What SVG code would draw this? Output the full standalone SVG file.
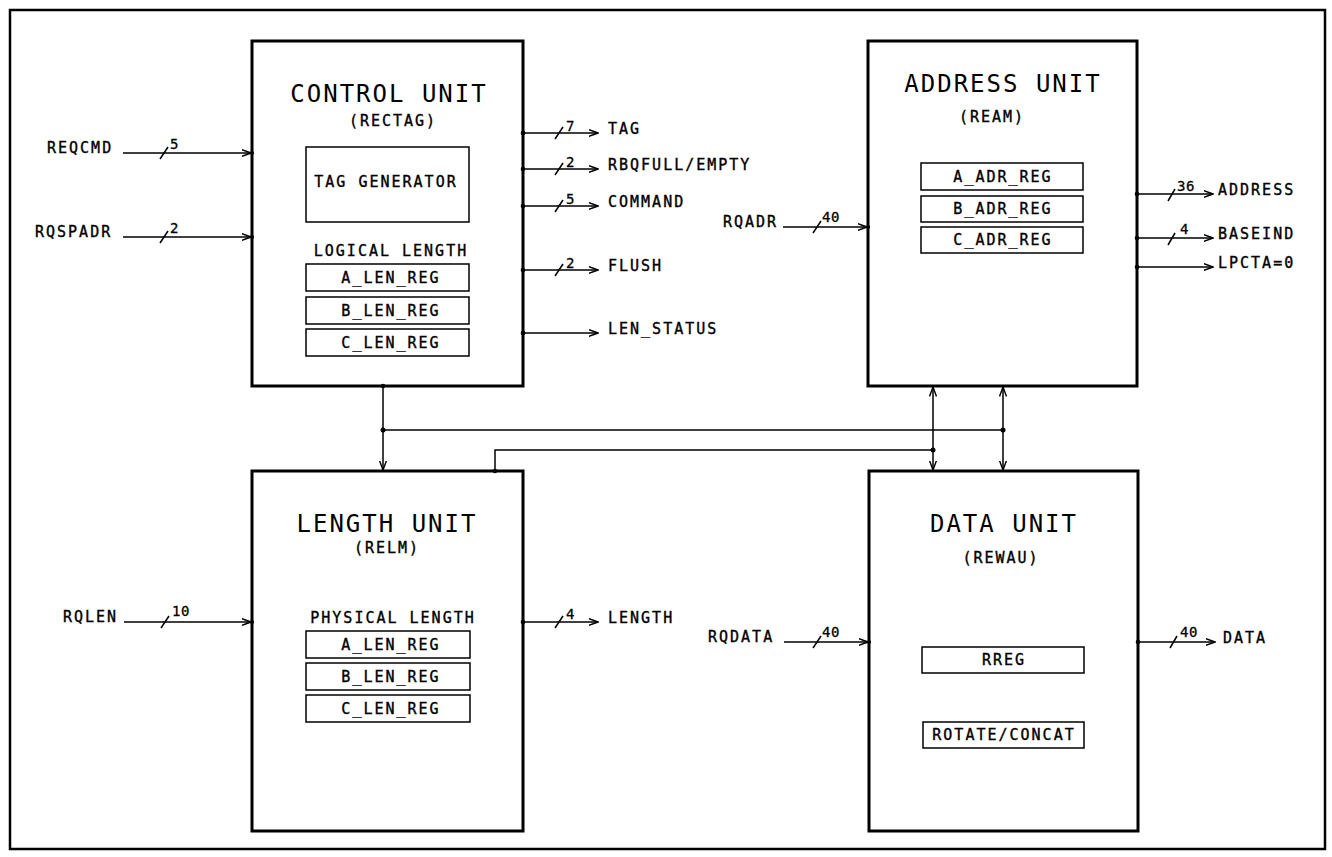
<svg xmlns="http://www.w3.org/2000/svg" width="1332" height="857" viewBox="0 0 1332 857">
<defs>
<marker id="arr" viewBox="0 0 10 8" refX="9.5" refY="4" markerWidth="10" markerHeight="8" markerUnits="userSpaceOnUse" orient="auto-start-reverse">
<path d="M0,0.5 L9.5,4 L0,7.5" fill="none" stroke="#000" stroke-width="1.4"/>
</marker>
<style>
.unit{fill:#fff;stroke:#000;stroke-width:3}
.reg{fill:none;stroke:#000;stroke-width:1.5}
.ln{fill:none;stroke:#000;stroke-width:1.5}
.sl{fill:none;stroke:#000;stroke-width:1.5}
.dot{fill:#000}
text{font-family:"DejaVu Sans Mono","Liberation Mono",monospace;fill:#000}
.title{font-size:24px;letter-spacing:2px;text-anchor:middle}
.lbl{font-size:15px;letter-spacing:2px;stroke:#000;stroke-width:0.35}
.ctr{text-anchor:middle}
.bw{font-size:14px;letter-spacing:0.5px;stroke:#000;stroke-width:0.3}
</style>
</defs>
<rect x="10" y="10" width="1315" height="839" fill="#fff" stroke="#000" stroke-width="2.5"/>

<g id="control-unit">
<rect class="unit" x="252" y="41" width="271" height="345"/>
<text class="title" x="389" y="102">CONTROL UNIT</text>
<text class="lbl ctr" x="393" y="126">(RECTAG)</text>
<rect class="reg" x="306" y="147" width="163" height="75"/>
<text class="lbl ctr" x="386" y="187">TAG GENERATOR</text>
<text class="lbl ctr" x="391" y="256">LOGICAL LENGTH</text>
<rect class="reg" x="306" y="264" width="163" height="27"/>
<text class="lbl ctr" x="391" y="283">A_LEN_REG</text>
<rect class="reg" x="306" y="297" width="163" height="27"/>
<text class="lbl ctr" x="391" y="316">B_LEN_REG</text>
<rect class="reg" x="306" y="329" width="163" height="27"/>
<text class="lbl ctr" x="391" y="348">C_LEN_REG</text>
</g>

<g id="address-unit">
<rect class="unit" x="868" y="41" width="269" height="345"/>
<text class="title" x="1003" y="92">ADDRESS UNIT</text>
<text class="lbl ctr" x="992" y="122">(REAM)</text>
<rect class="reg" x="921" y="163" width="162" height="27"/>
<text class="lbl ctr" x="1003" y="182">A_ADR_REG</text>
<rect class="reg" x="921" y="196" width="162" height="26"/>
<text class="lbl ctr" x="1003" y="214">B_ADR_REG</text>
<rect class="reg" x="921" y="227" width="162" height="26"/>
<text class="lbl ctr" x="1003" y="245">C_ADR_REG</text>
</g>

<g id="length-unit">
<rect class="unit" x="252" y="471" width="271" height="360"/>
<text class="title" x="387" y="532">LENGTH UNIT</text>
<text class="lbl ctr" x="387" y="553">(RELM)</text>
<text class="lbl ctr" x="393" y="623">PHYSICAL LENGTH</text>
<rect class="reg" x="306" y="631" width="164" height="27"/>
<text class="lbl ctr" x="391" y="650">A_LEN_REG</text>
<rect class="reg" x="306" y="663" width="164" height="27"/>
<text class="lbl ctr" x="391" y="682">B_LEN_REG</text>
<rect class="reg" x="306" y="695" width="164" height="27"/>
<text class="lbl ctr" x="391" y="714">C_LEN_REG</text>
</g>

<g id="data-unit">
<rect class="unit" x="869" y="471" width="269" height="360"/>
<text class="title" x="1004" y="532">DATA UNIT</text>
<text class="lbl ctr" x="1001" y="563">(REWAU)</text>
<rect class="reg" x="922" y="647" width="162" height="26"/>
<text class="lbl ctr" x="1004" y="665">RREG</text>
<rect class="reg" x="923" y="722" width="161" height="26"/>
<text class="lbl ctr" x="1004" y="740">ROTATE/CONCAT</text>
</g>

<g id="connectors">
<!-- inputs to control unit -->
<line class="ln" x1="123" y1="153" x2="251" y2="153" marker-end="url(#arr)"/>
<line class="sl" x1="160" y1="159" x2="168" y2="147"/>
<text class="bw" x="170" y="149">5</text>
<text class="lbl" x="47" y="153">REQCMD</text>
<line class="ln" x1="123" y1="237" x2="251" y2="237" marker-end="url(#arr)"/>
<line class="sl" x1="160" y1="243" x2="168" y2="231"/>
<text class="bw" x="170" y="233">2</text>
<text class="lbl" x="35" y="237">RQSPADR</text>
<circle class="dot" cx="252" cy="153" r="2"/>
<circle class="dot" cx="252" cy="237" r="2"/>

<!-- control unit outputs -->
<line class="ln" x1="523" y1="133" x2="598" y2="133" marker-end="url(#arr)"/>
<line class="sl" x1="555" y1="139" x2="563" y2="127"/>
<text class="bw" x="566" y="131">7</text>
<text class="lbl" x="608" y="134">TAG</text>
<line class="ln" x1="523" y1="169" x2="598" y2="169" marker-end="url(#arr)"/>
<line class="sl" x1="555" y1="175" x2="563" y2="163"/>
<text class="bw" x="566" y="167">2</text>
<text class="lbl" x="608" y="170">RBQFULL/EMPTY</text>
<line class="ln" x1="523" y1="206" x2="598" y2="206" marker-end="url(#arr)"/>
<line class="sl" x1="555" y1="212" x2="563" y2="200"/>
<text class="bw" x="566" y="204">5</text>
<text class="lbl" x="608" y="207">COMMAND</text>
<line class="ln" x1="523" y1="270" x2="598" y2="270" marker-end="url(#arr)"/>
<line class="sl" x1="555" y1="276" x2="563" y2="264"/>
<text class="bw" x="566" y="268">2</text>
<text class="lbl" x="608" y="271">FLUSH</text>
<line class="ln" x1="523" y1="333" x2="598" y2="333" marker-end="url(#arr)"/>
<text class="lbl" x="608" y="334">LEN_STATUS</text>
<circle class="dot" cx="523" cy="133" r="2.3"/>
<circle class="dot" cx="523" cy="169" r="2.3"/>
<circle class="dot" cx="523" cy="206" r="2.3"/>
<circle class="dot" cx="523" cy="270" r="2.3"/>
<circle class="dot" cx="523" cy="333" r="2.3"/>

<!-- address unit input/outputs -->
<text class="lbl" x="723" y="227">RQADR</text>
<line class="ln" x1="783" y1="227" x2="867" y2="227" marker-end="url(#arr)"/>
<line class="sl" x1="813" y1="233" x2="821" y2="221"/>
<text class="bw" x="822" y="222">40</text>
<circle class="dot" cx="868" cy="227" r="2"/>
<line class="ln" x1="1137" y1="194" x2="1213" y2="194" marker-end="url(#arr)"/>
<line class="sl" x1="1168" y1="201" x2="1175" y2="189"/>
<text class="bw" x="1177" y="191">36</text>
<text class="lbl" x="1218" y="195">ADDRESS</text>
<line class="ln" x1="1137" y1="238" x2="1213" y2="238" marker-end="url(#arr)"/>
<line class="sl" x1="1168" y1="245" x2="1175" y2="233"/>
<text class="bw" x="1180" y="234">4</text>
<text class="lbl" x="1218" y="239">BASEIND</text>
<line class="ln" x1="1137" y1="267" x2="1213" y2="267" marker-end="url(#arr)"/>
<text class="lbl" x="1218" y="268">LPCTA=0</text>
<circle class="dot" cx="1137" cy="194" r="2.3"/>
<circle class="dot" cx="1137" cy="238" r="2.3"/>
<circle class="dot" cx="1137" cy="267" r="2.3"/>

<!-- length unit input/output -->
<text class="lbl" x="63" y="622">RQLEN</text>
<line class="ln" x1="124" y1="622" x2="251" y2="622" marker-end="url(#arr)"/>
<line class="sl" x1="161" y1="628" x2="169" y2="616"/>
<text class="bw" x="172" y="616">10</text>
<circle class="dot" cx="252" cy="622" r="2"/>
<line class="ln" x1="523" y1="622" x2="598" y2="622" marker-end="url(#arr)"/>
<line class="sl" x1="555" y1="628" x2="563" y2="616"/>
<text class="bw" x="566" y="619">4</text>
<text class="lbl" x="608" y="623">LENGTH</text>
<circle class="dot" cx="523" cy="622" r="2.3"/>

<!-- data unit input/output -->
<text class="lbl" x="708" y="642">RQDATA</text>
<line class="ln" x1="784" y1="642" x2="868" y2="642" marker-end="url(#arr)"/>
<line class="sl" x1="813" y1="648" x2="821" y2="636"/>
<text class="bw" x="822" y="637">40</text>
<circle class="dot" cx="869" cy="642" r="2"/>
<line class="ln" x1="1138" y1="642" x2="1215" y2="642" marker-end="url(#arr)"/>
<line class="sl" x1="1170" y1="648" x2="1177" y2="636"/>
<text class="bw" x="1180" y="637">40</text>
<text class="lbl" x="1223" y="643">DATA</text>
<circle class="dot" cx="1138" cy="642" r="2.3"/>

<!-- inter-unit buses -->
<line class="ln" x1="383" y1="386" x2="383" y2="470" marker-end="url(#arr)"/>
<polyline class="ln" points="383,430 1003,430"/>
<line class="ln" x1="1003" y1="387" x2="1003" y2="470" marker-start="url(#arr)" marker-end="url(#arr)"/>
<line class="ln" x1="933" y1="387" x2="933" y2="470" marker-start="url(#arr)" marker-end="url(#arr)"/>
<polyline class="ln" points="495,471 495,450 933,450"/>
<circle class="dot" cx="383" cy="386" r="2.3"/>
<circle class="dot" cx="383" cy="430" r="2.5"/>
<circle class="dot" cx="1003" cy="430" r="2.5"/>
<circle class="dot" cx="933" cy="450" r="2.5"/>
<circle class="dot" cx="495" cy="471" r="2.3"/>
</g>
</svg>
